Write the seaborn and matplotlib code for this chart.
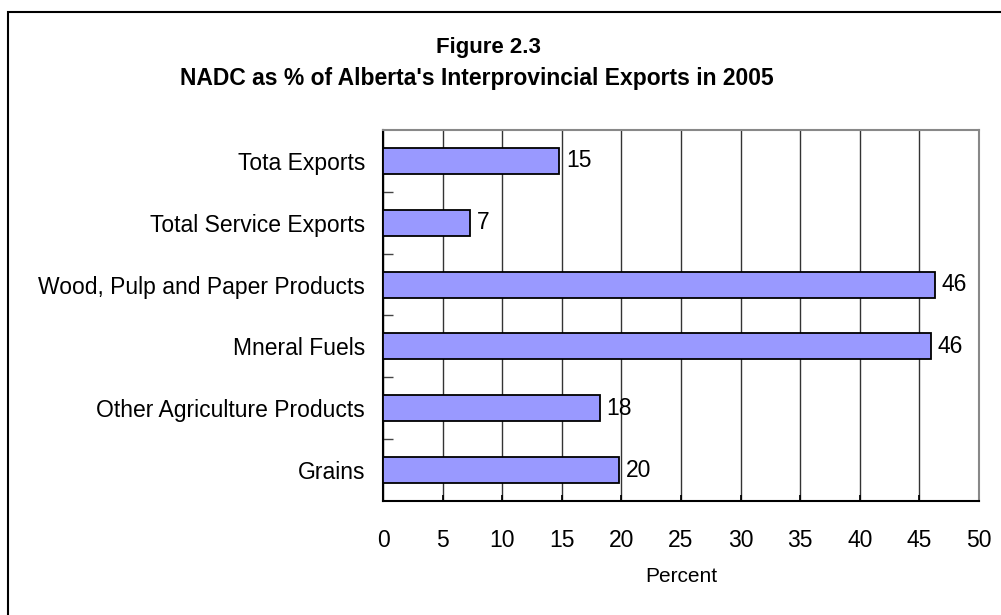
import numpy as np
import pandas as pd
import matplotlib
matplotlib.use("Agg")
import matplotlib.pyplot as plt
from matplotlib.patches import Rectangle
import seaborn as sns

categories = ["Tota Exports", "Total Service Exports", "Wood, Pulp and Paper Products",
              "Mneral Fuels", "Other Agriculture Products", "Grains"]
values = [14.8, 7.3, 46.3, 46.0, 18.2, 19.8]
labels = ["15", "7", "46", "46", "18", "20"]

df = pd.DataFrame({"category": categories, "value": values})

sns.set_theme(style="white")
plt.rcParams["font.family"] = ["Liberation Sans", "DejaVu Sans"]
plt.rcParams["text.color"] = "black"
plt.rcParams["axes.labelcolor"] = "black"
plt.rcParams["xtick.color"] = "black"
plt.rcParams["ytick.color"] = "black"

fig = plt.figure(figsize=(10.01, 6.15), dpi=100)
ax = fig.add_axes([383 / 1001, 1 - 501 / 615, (979 - 383) / 1001, (501 - 130) / 615])

sns.barplot(data=df, y="category", x="value", orient="h", color="#9999FF",
            saturation=1, edgecolor="black", linewidth=1.3, width=0.42, ax=ax, zorder=3)

for i, (v, lab) in enumerate(zip(values, labels)):
    ax.text(v + 0.55, i, lab, va="center", ha="left", fontsize=16.5, color="black")

ax.set_xlim(0, 50)
ax.set_ylim(5.5, -0.5)
ax.set_xticks(np.arange(0, 51, 5))
ax.set_xticklabels([str(t) for t in range(0, 51, 5)], fontsize=16.5)
ax.tick_params(axis="x", bottom=True, direction="in", length=4, pad=20)
ax.set_yticks(range(len(categories)))
ax.set_yticklabels(categories, fontsize=16.5)
ax.tick_params(axis="y", which="major", left=False, length=0, pad=13)
# small boundary ticks between categories
ax.set_yticks(np.arange(0.5, 5, 1), minor=True)
ax.tick_params(axis="y", which="minor", left=True, direction="in", length=7, width=1,
               color="#444444")

ax.xaxis.grid(True, color="#333333", linewidth=1)
ax.set_axisbelow(True)
ax.set_xlabel("Percent", fontsize=15, labelpad=11)
ax.set_ylabel("")

for side in ["left", "bottom"]:
    ax.spines[side].set_color("black")
    ax.spines[side].set_linewidth(1.5)
for side in ["top", "right"]:
    ax.spines[side].set_color("#888888")
    ax.spines[side].set_linewidth(1.5)

fig.text(488 / 1001, 1 - 47 / 615, "Figure 2.3", ha="center", va="center",
         fontsize=16, fontweight="bold")
fig.text(477 / 1001, 1 - 79 / 615, "NADC as % of Alberta's Interprovincial Exports in 2005",
         ha="center", va="center", fontsize=16.5, fontweight="bold")

fig.patches.append(Rectangle((8 / 1001, -0.1), 1.2, 1 - 12 / 615 + 0.1, transform=fig.transFigure,
                             fill=False, edgecolor="black", linewidth=1.5))

fig.savefig("out.png", dpi=100)
